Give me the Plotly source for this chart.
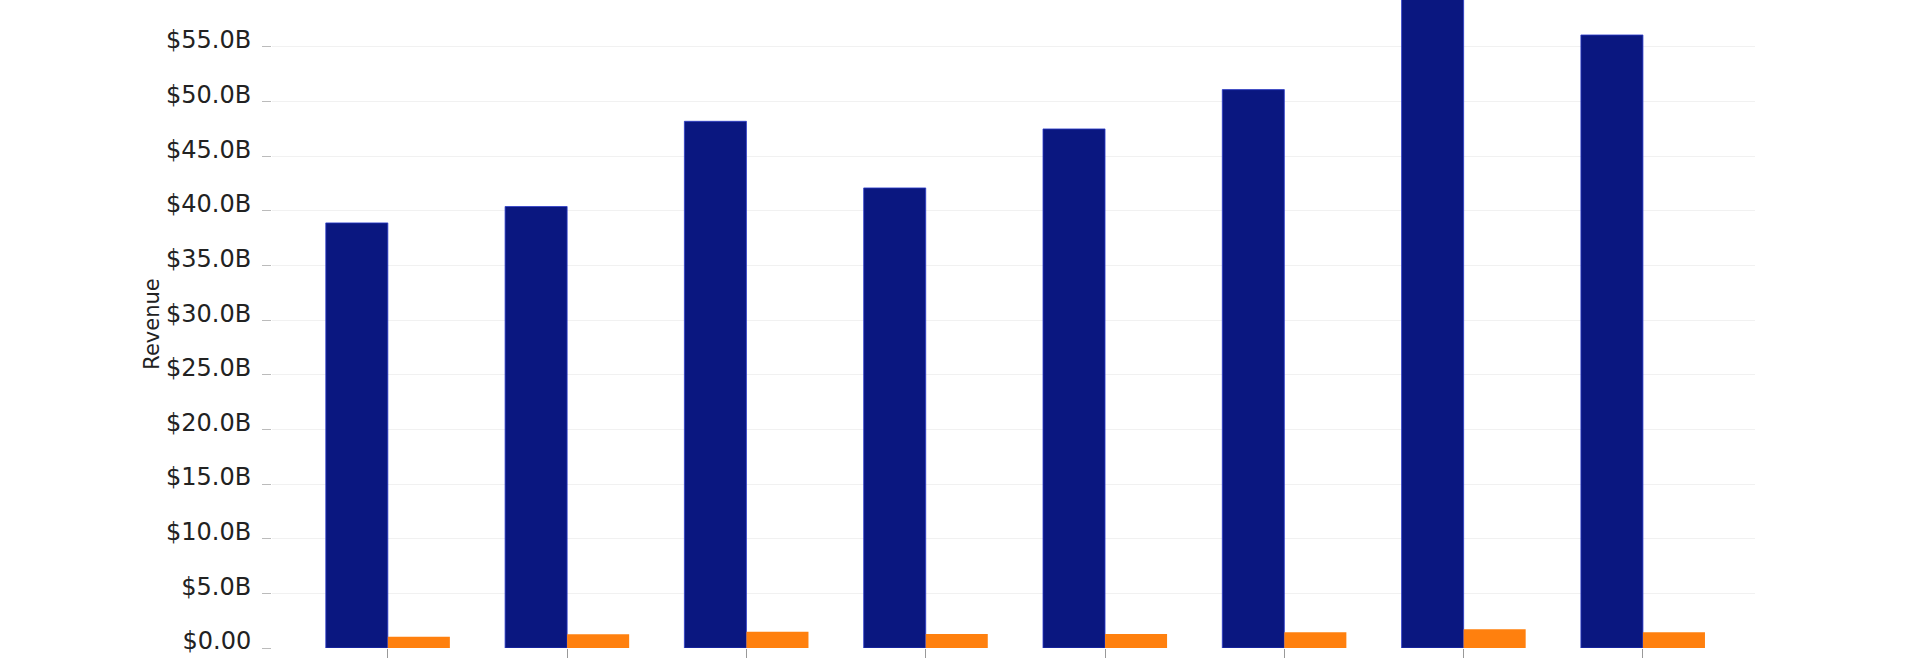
import plotly.graph_objects as go

# Values (billions of USD)
QUARTERS = ["Q1", "Q2", "Q3", "Q4", "Q5", "Q6", "Q7", "Q8"]
REVENUE_B = [38.9, 40.4, 48.2, 42.1, 47.5, 51.1, 60.6, 56.1]
OTHER_B = [1.04, 1.25, 1.49, 1.28, 1.28, 1.43, 1.72, 1.43]
Y_TICKS = [0, 5, 10, 15, 20, 25, 30, 35, 40, 45, 50, 55]
Y_TICK_TEXT = ["$0.00", "$5.0B", "$10.0B", "$15.0B", "$20.0B", "$25.0B",
               "$30.0B", "$35.0B", "$40.0B", "$45.0B", "$50.0B", "$55.0B"]

_FONT = "DejaVu Sans"
_NAVY = "#0A1780"
_ORANGE = "#FF800E"
_GRID = "#F1F1F1"

fig = go.Figure()
fig.add_trace(go.Bar(
    x=QUARTERS, y=REVENUE_B, name="Revenue",
    marker=dict(color=_NAVY, line=dict(color="#2B3BC8", width=0.8)),
))
fig.add_trace(go.Bar(
    x=QUARTERS, y=OTHER_B, name="Other",
    marker=dict(color=_ORANGE, line=dict(width=0)),
))

fig.update_layout(
    barmode="group",
    bargap=0.308,
    bargroupgap=0,
    showlegend=False,
    width=1920,
    height=660,
    margin=dict(l=272, r=165, t=0, b=12),
    paper_bgcolor="white",
    plot_bgcolor="white",
    font=dict(family=_FONT, color="#222222"),
    xaxis=dict(
        range=[-0.646, 7.625],
        showticklabels=False,
        ticks="outside",
        ticklen=9,
        tickcolor="#999999",
        showgrid=False,
        showline=False,
        zeroline=False,
    ),
    yaxis=dict(
        range=[0, 59.3],
        tickvals=Y_TICKS,
        ticktext=Y_TICK_TEXT,
        tickfont=dict(family=_FONT, size=24, color="#222222"),
        ticks="outside",
        ticklen=9,
        tickcolor="#BBBBBB",
        ticklabelstandoff=6,
        ticklabelshift=-7,
        showgrid=True,
        gridcolor=_GRID,
        gridwidth=1,
        zeroline=False,
        showline=False,
        title=dict(text="Revenue", font=dict(family=_FONT, size=21, color="#222222"),
                   standoff=0),
    ),
)

# page body margin would push the figure 8px off the window corner
fig.write_html(
    "out.html",
    config={"displayModeBar": False},
    post_script="document.body.style.margin='0px';",
)
